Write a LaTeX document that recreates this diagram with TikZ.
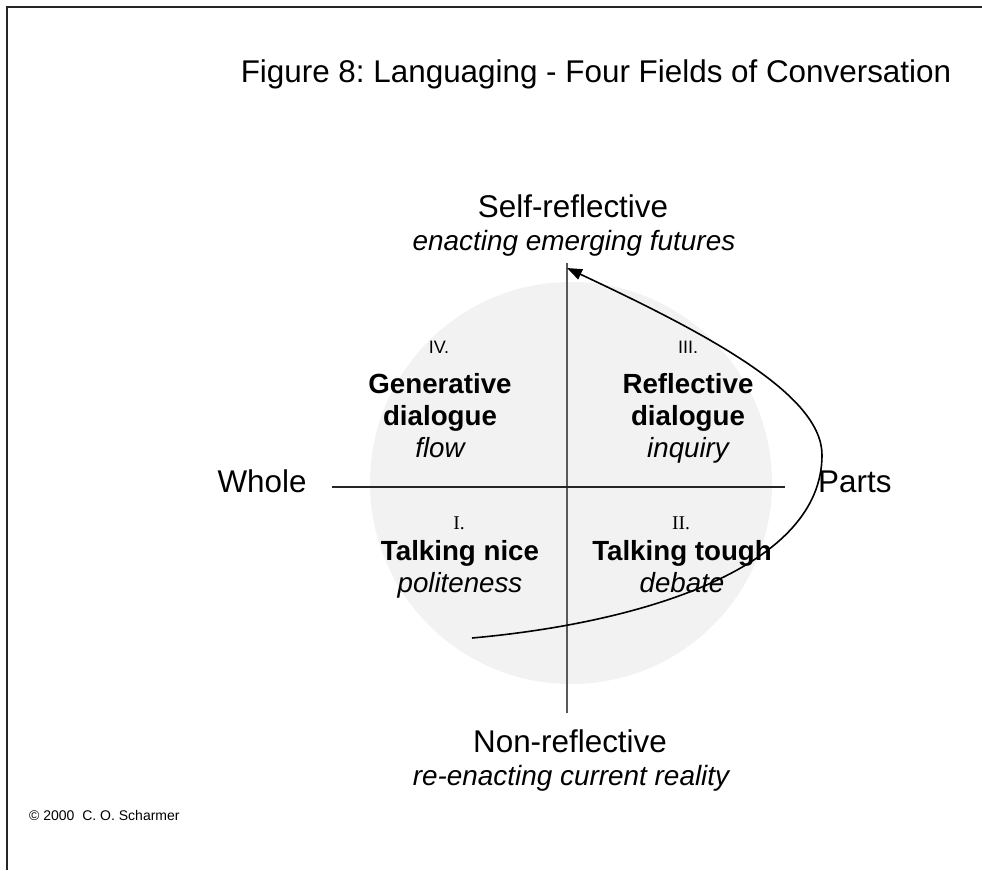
\documentclass[tikz,border=0pt]{standalone}
\usepackage{fontspec}
\setmainfont{Liberation Sans}
\newfontfamily\numfont{Liberation Serif}
\usetikzlibrary{arrows.meta}
\frenchspacing
\tikzset{
  field area/.style = {fill=black!5}
}
\tikzset{
  every node/.style = {inner sep=0pt, anchor=base, font=\fontsize{31.4}{36}\selectfont}
}
\tikzset{
  >={Triangle[length=15pt,width=11pt]}
}
\tikzset{
  axis line/.style = {line width=1.5pt},
  sub label/.style = {font=\fontsize{27.9}{32}\selectfont\itshape},
  field name/.style = {font=\fontsize{27.7}{32}\selectfont\bfseries},
  field sub/.style = {font=\fontsize{27.7}{32}\selectfont\itshape},
  field num/.style = {font=\fontsize{18}{22}\selectfont}
}
\newcommand{\romannum}[4]{
  \node[field num] (#1) at (#2,#3) {#4};
}

\begin{document}
\begin{tikzpicture}[x=1pt, y=-1pt]
  \useasboundingbox (0,0) rectangle (982,870);
  \draw[line width=2pt, black!85] (7,870) -- (7,7) -- (982,7);

  \node (title) at (596,82) {Figure 8: Languaging - Four Fields of Conversation};

  \fill[field area] (571,483) circle[radius=201pt];

  \coordinate (axis top) at (567,263);
  \coordinate (axis bottom) at (567,713);
  \coordinate (axis west) at (332,487);
  \coordinate (axis east) at (785,487);
  \draw[axis line, black!65] (axis top) -- (axis bottom);
  \draw[axis line, black!85] (axis west) -- (axis east);

  \node (self) at (573,217) {Self-reflective};
  \node[sub label] (self sub) at (574,250) {enacting emerging futures};
  \node (non) at (570,752) {Non-reflective};
  \node[sub label] (non sub) at (571,785) {re-enacting current reality};
  \node (whole) at (262,492) {Whole};
  \node[anchor=base west] (parts) at (818,492) {Parts};

  \romannum{IV}{439}{353}{IV.}
  \romannum{III}{688}{353}{III.}
  \node[field num, font=\numfont\fontsize{19.5}{22}\selectfont] (I) at (459,529) {I.};
  \node[field num, font=\numfont\fontsize{19.5}{22}\selectfont] (II) at (681,529) {II.};

  \node[field name] (gen) at (440,393) {Generative};
  \node[field name] (gen dia) at (440,425) {dialogue};
  \node[field sub] (flow) at (440,457) {flow};
  \node[field name] (refl) at (688,393) {Reflective};
  \node[field name] (refl dia) at (688,425) {dialogue};
  \node[field sub] (inquiry) at (688,457) {inquiry};
  \node[field name] (nice) at (460,560) {Talking nice};
  \node[field sub] (polite) at (460,592) {politeness};
  \node[field name] (tough) at (682,560) {Talking tough};
  \node[field sub] (debate) at (682,592) {debate};

  \coordinate (loop start) at (472,638);
  \coordinate (loop far) at (822,455);
  \coordinate (loop tip) at (567,268);
  \draw[->, line width=1.6pt] (loop start) .. controls (650,622) and (822,565) .. (loop far)
    .. controls (822,395) and (710,335) .. (loop tip);

  \node[anchor=base west, font=\fontsize{14}{16}\selectfont] (copy) at (29,820) {© 2000\ \ C. O. Scharmer};
\end{tikzpicture}
\end{document}
